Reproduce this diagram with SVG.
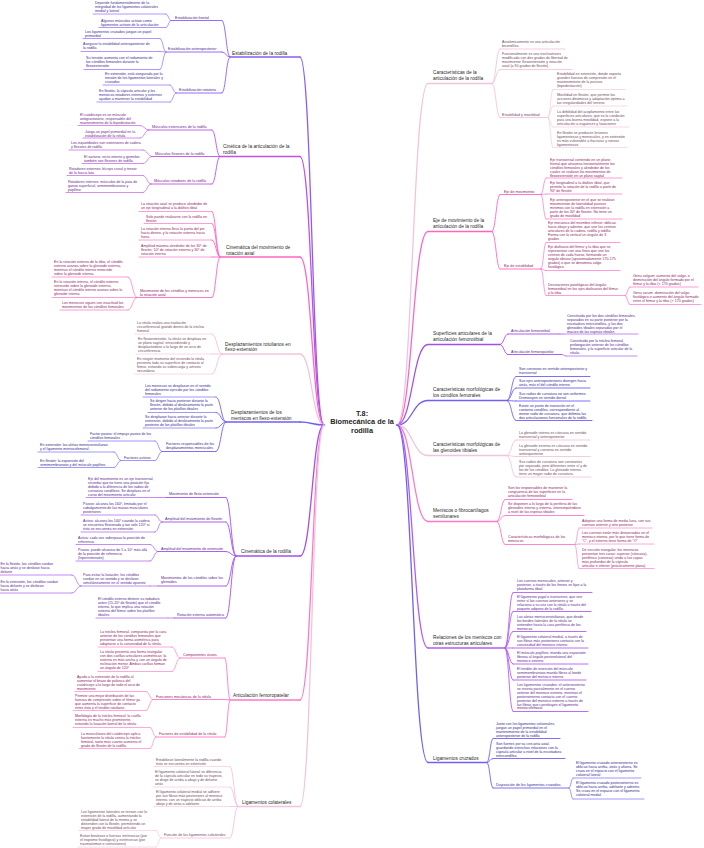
<svg xmlns="http://www.w3.org/2000/svg" width="704" height="848" viewBox="0 0 704 848">
<style>
text{font-family:"Liberation Sans",Arial,sans-serif}
.t{font-size:3.6px}
.m{font-size:3.7px}
.b{font-size:4.8px}
.title{font-size:7.3px;font-weight:bold;fill:#1f1f1f}
line,path{fill:none;stroke-linecap:round}
.l1{stroke-width:1.3}.l2{stroke-width:0.9}.l3{stroke-width:0.65}
.cA text{fill:#3b2a8c}.cA line,.cA path{stroke:#8b5cf6}
.cB text{fill:#6b2785}.cB line,.cB path{stroke:#c050e8}
.cC text{fill:#8c1f63}.cC line,.cC path{stroke:#ff66c4}
.cD text{fill:#6e4a5e}.cD line,.cD path{stroke:#f2c4dc}
.cE text{fill:#342a8c}.cE line,.cE path{stroke:#7060f5}
.cF text{fill:#55288a}.cF line,.cF path{stroke:#a24ff0}
.cG text{fill:#8c1f63}.cG line,.cG path{stroke:#ff78c8}
.cO text{fill:#5c2a8a}.cO line,.cO path{stroke:#b45cf2}
.n text.b{fill:#2b2b2b}
</style>
<rect width="704" height="848" fill="#ffffff"/>

<g id="connectors">
<g class="cA">
<path class="l1" d="M324 425C312 425 312 57 300 57"/>
<path class="l2" d="M230 57C226 57 226 20.5 222 20.5M230 57C226 57 226 52 222 52M230 57C226 57 226 93 222 93"/>
<path class="l3" d="M171 20.5C168.5 20.5 168.5 14 166 14M171 20.5C168.5 20.5 168.5 27.5 166 27.5M166 52C163 52 163 38.5 160 38.5M166 52C163 52 163 51.5 160 51.5M166 52C163 52 163 69.5 160 69.5M176 93C173 93 173 85 170 85M176 93C173 93 173 102 170 102"/>
</g>
<g class="cB">
<path class="l1" d="M324 425C312 425 312 156.5 300 156.5"/>
<path class="l2" d="M220 156.5C216 156.5 216 130 212 130M220 156.5L212 156.5M220 156.5C216 156.5 216 184 212 184"/>
<path class="l3" d="M149 130C144.5 130 144.5 125.5 140 125.5M149 130C144.5 130 144.5 138 140 138M152 156.5C147.5 156.5 147.5 150 143 150M152 156.5C147.5 156.5 147.5 163.5 143 163.5M151 184C147 184 147 175.5 143 175.5M151 184C147 184 147 192.5 143 192.5"/>
</g>
<g class="cC">
<path class="l1" d="M324 425C312 425 312 257 300 257"/>
<path class="l2" d="M220 257C216 257 216 211.5 212 211.5M220 257C216 257 216 223.5 212 223.5M220 257C216 257 216 240 212 240M220 257L212 257M220 257C216 257 216 297.5 212 297.5"/>
<path class="l3" d="M137 297.5C132.5 297.5 132.5 277 128 277M137 297.5L128 297.5M137 297.5C132.5 297.5 132.5 310 128 310"/>
</g>
<g class="cD">
<path class="l1" d="M324 425C312 425 312 354 300 354"/>
<path class="l2" d="M222 354C217 354 217 334 212 334M222 354L212 354M222 354C217 354 217 374 212 374"/>
</g>
<g class="cE">
<path class="l1" d="M324 425C312 425 312 422 300 422"/>
<path class="l2" d="M226 422C221 422 221 397 216 397M226 422C221 422 221 412.5 216 412.5M226 422C221 422 221 428 216 428M226 422C221 422 221 451.5 216 451.5"/>
<path class="l3" d="M162 451.5C158.5 451.5 158.5 441 155 441M162 451.5C158.5 451.5 158.5 460.5 155 460.5M121 460.5C117.5 460.5 117.5 452 114 452M121 460.5C117.5 460.5 117.5 467.5 114 467.5"/>
</g>
<g class="cF">
<path class="l1" d="M324 425C312 425 312 556 300 556"/>
<path class="l2" d="M236 556C231 556 231 497.5 226 497.5M236 556C231 556 231 522 226 522M236 556C231 556 231 551.5 226 551.5M236 556C231 556 231 586 226 586M236 556C231 556 231 618 226 618"/>
<path class="l3" d="M166 497.5L160 497.5M162 522C158.5 522 158.5 515 155 515M162 522C158.5 522 158.5 532 155 532M158 551.5C154 551.5 154 544.5 150 544.5M158 551.5C154 551.5 154 561 150 561M158 586L150 586M81 586C76.5 586 76.5 575 72 575M81 586C76.5 586 76.5 593 72 593M174 618L168 618"/>
</g>
<g class="cG">
<path class="l1" d="M324 425C312 425 312 700 300 700"/>
<path class="l2" d="M230 700C227.5 700 227.5 658 225 658M230 700L225 699.5M230 700C227.5 700 227.5 737 225 737"/>
<path class="l3" d="M180 658C176 658 176 647 172 647M180 658C176 658 176 671.5 172 671.5M153 699.5C149.5 699.5 149.5 691.5 146 691.5M153 699.5C149.5 699.5 149.5 710.5 146 710.5M156 737C153 737 153 727.5 150 727.5M156 737C153 737 153 748.5 150 748.5"/>
</g>
<g class="cD">
<path class="l1" d="M324 425C312 425 312 806.5 300 806.5"/>
<path class="l2" d="M238 806.5C234 806.5 234 766.5 230 766.5M238 806.5C234 806.5 234 787 230 787M238 806.5L230 806.5M238 806.5C234 806.5 234 838 230 838"/>
<path class="l3" d="M161 838C158.5 838 158.5 830.5 156 830.5M161 838C158.5 838 158.5 847 156 847"/>
</g>
<g class="cD">
<path class="l1" d="M397 425C412.5 425 412.5 83.5 428 83.5"/>
<path class="l2" d="M492 83.5C496 83.5 496 49 500 49M492 83.5C496 83.5 496 69.5 500 69.5M492 83.5C496 83.5 496 117.5 500 117.5"/>
<path class="l3" d="M548 117.5C550.5 117.5 550.5 89.5 553 89.5M548 117.5C550.5 117.5 550.5 106 553 106M548 117.5C550.5 117.5 550.5 127 553 127M548 117.5C550.5 117.5 550.5 147.5 553 147.5"/>
</g>
<g class="cC">
<path class="l1" d="M397 425C412.5 425 412.5 231.5 428 231.5"/>
<path class="l2" d="M492 231.5C496 231.5 496 194.5 500 194.5M492 231.5C496 231.5 496 269 500 269"/>
<path class="l3" d="M541 194.5C543.5 194.5 543.5 178 546 178M541 194.5L546 194M541 194.5C543.5 194.5 543.5 219 546 219M541 269C543.5 269 543.5 242.5 546 242.5M541 269C543.5 269 543.5 270.5 546 270.5M541 269C543.5 269 543.5 295.5 546 295.5M625 295.5C627.5 295.5 627.5 287 630 287M625 295.5C627.5 295.5 627.5 304.5 630 304.5"/>
</g>
<g class="cF">
<path class="l1" d="M397 425C412.5 425 412.5 344.5 428 344.5"/>
<path class="l2" d="M500 344.5C504 344.5 504 334 508 334M500 344.5C504 344.5 504 354.5 508 354.5"/>
<path class="l3" d="M560 334L563 334M562 354.5C564 354.5 564 356 566 356"/>
</g>
<g class="cE">
<path class="l1" d="M397 425C412.5 425 412.5 400.5 428 400.5"/>
<path class="l2" d="M507 400.5C511.5 400.5 511.5 376.5 516 376.5M507 400.5C511.5 400.5 511.5 388 516 388M507 400.5C511.5 400.5 511.5 401 516 401M507 400.5C511.5 400.5 511.5 420.5 516 420.5"/>
</g>
<g class="cD">
<path class="l1" d="M397 425C412.5 425 412.5 455.5 428 455.5"/>
<path class="l2" d="M507 455.5C511.5 455.5 511.5 440 516 440M507 455.5C511.5 455.5 511.5 456.5 516 456.5M507 455.5C511.5 455.5 511.5 477 516 477"/>
</g>
<g class="cG">
<path class="l1" d="M397 425C412.5 425 412.5 521.5 428 521.5"/>
<path class="l2" d="M497 521.5C501 521.5 501 499.5 505 499.5M497 521.5C501 521.5 501 515.5 505 515.5M497 521.5C501 521.5 501 544.5 505 544.5"/>
<path class="l3" d="M575 544.5C577 544.5 577 528 579 528M575 544.5L579 544M575 544.5C577 544.5 577 568.5 579 568.5"/>
</g>
<g class="cO">
<path class="l1" d="M397 425C412.5 425 412.5 648 428 648"/>
<path class="l2" d="M505 648C509 648 509 592.5 513 592.5M505 648C509 648 509 611.5 513 611.5M505 648C509 648 509 631.5 513 631.5M505 648L513 648M505 648C509 648 509 664 513 664M505 648C509 648 509 680 513 680M505 648C509 648 509 711.5 513 711.5"/>
</g>
<g class="cE">
<path class="l1" d="M397 425C412.5 425 412.5 762.5 428 762.5"/>
<path class="l2" d="M487 762.5C490 762.5 490 738.5 493 738.5M487 762.5C490 762.5 490 758.5 493 758.5M487 762.5C490 762.5 490 788 493 788"/>
<path class="l3" d="M569 788C571 788 571 778 573 778M569 788C571 788 571 799 573 799"/>
</g>
</g>

<g id="central"><text class="title" text-anchor="middle" x="362" y="415.5">T.8:<tspan x="362" dy="8.5">Biomecánica de la</tspan><tspan x="362" dy="8.5">rodilla</tspan></text></g>

<!-- A -->
<g id="estabilizacion" class="n cA"><text class="b" x="232" y="55">Estabilización de la rodilla</text><line class="l1" x1="230" y1="57" x2="300" y2="57"/></g>
<g id="est-frontal" class="n cA"><text class="m" x="175" y="19">Estabilización frontal</text><line class="l2" x1="171" y1="20.5" x2="222" y2="20.5"/></g>
<g id="est-frontal-1" class="n cA"><text class="t" x="95" y="4">Depende fundamentalmente de la<tspan x="95" dy="4">integridad de los ligamentos colaterales</tspan><tspan x="95" dy="4">medial y lateral</tspan></text><line class="l3" x1="93" y1="14" x2="166" y2="14"/></g>
<g id="est-frontal-2" class="n cA"><text class="t" x="101" y="21.5">Algunos músculos actúan como<tspan x="101" dy="4">ligamentos activos de la articulación</tspan></text><line class="l3" x1="99" y1="27.5" x2="166" y2="27.5"/></g>
<g id="est-ap" class="n cA"><text class="m" x="168" y="50">Estabilización anteroposterior</text><line class="l2" x1="166" y1="52" x2="222" y2="52"/></g>
<g id="est-ap-1" class="n cA"><text class="t" x="85" y="33">Los ligamentos cruzados juegan un papel<tspan x="85" dy="4">primordial</tspan></text><line class="l3" x1="83" y1="38.5" x2="160" y2="38.5"/></g>
<g id="est-ap-2" class="n cA"><text class="t" x="83" y="45">Asegurar la estabilidad anteroposterior de<tspan x="83" dy="4">la rodilla</tspan></text><line class="l3" x1="81" y1="51.5" x2="160" y2="51.5"/></g>
<g id="est-ap-3" class="n cA"><text class="t" x="86" y="59">Su tensión aumenta con el rodamiento de<tspan x="86" dy="4">los cóndilos femorales durante la</tspan><tspan x="86" dy="4">flexoextensión</tspan></text><line class="l3" x1="84" y1="69.5" x2="160" y2="69.5"/></g>
<g id="est-rot" class="n cA"><text class="m" x="179" y="91">Estabilización rotatoria</text><line class="l2" x1="176" y1="93" x2="222" y2="93"/></g>
<g id="est-rot-1" class="n cA"><text class="t" x="105" y="75">En extensión, está asegurada por la<tspan x="105" dy="4">tensión de los ligamentos laterales y</tspan><tspan x="105" dy="4">cruzados</tspan></text><line class="l3" x1="103" y1="85" x2="170" y2="85"/></g>
<g id="est-rot-2" class="n cA"><text class="t" x="99" y="92">En flexión, la cápsula articular y los<tspan x="99" dy="4">meniscos rotadores internos y externos</tspan><tspan x="99" dy="4">ayudan a mantener la estabilidad</tspan></text><line class="l3" x1="97" y1="102" x2="170" y2="102"/></g>

<!-- B -->
<g id="cinetica" class="n cB"><text class="b" x="223" y="148">Cinética de la articulación de la<tspan x="223" dy="5.8">rodilla</tspan></text><line class="l1" x1="220" y1="156.5" x2="300" y2="156.5"/></g>
<g id="m-ext" class="n cB"><text class="m" x="152" y="128">Músculos extensores de la rodilla</text><line class="l2" x1="149" y1="130" x2="212" y2="130"/></g>
<g id="m-ext-1" class="n cB"><text class="t" x="80" y="116">El cuádriceps es un músculo<tspan x="80" dy="4">antigravitatorio, responsable del</tspan><tspan x="80" dy="4">mantenimiento de la bipedestación</tspan></text><line class="l3" x1="78" y1="125.5" x2="140" y2="125.5"/></g>
<g id="m-ext-2" class="n cB"><text class="t" x="85" y="132.5">Juega un papel primordial en la<tspan x="85" dy="4">estabilización de la rótula</tspan></text><line class="l3" x1="83" y1="138" x2="140" y2="138"/></g>
<g id="m-flex" class="n cB"><text class="m" x="155" y="154.5">Músculos flexores de la rodilla</text><line class="l2" x1="152" y1="156.5" x2="212" y2="156.5"/></g>
<g id="m-flex-1" class="n cB"><text class="t" x="71" y="144">Los isquiotibiales son extensores de cadera<tspan x="71" dy="4">y flexores de rodilla</tspan></text><line class="l3" x1="69" y1="150" x2="143" y2="150"/></g>
<g id="m-flex-2" class="n cB"><text class="t" x="84" y="158">El sartorio, recto interno y gemelos<tspan x="84" dy="4">también son flexores de rodilla</tspan></text><line class="l3" x1="82" y1="163.5" x2="143" y2="163.5"/></g>
<g id="m-rot" class="n cB"><text class="m" x="154" y="182">Músculos rotadores de la rodilla</text><line class="l2" x1="151" y1="184" x2="212" y2="184"/></g>
<g id="m-rot-1" class="n cB"><text class="t" x="69" y="170">Rotadores externos: bíceps crural y tensor<tspan x="69" dy="4">de la fascia lata</tspan></text><line class="l3" x1="67" y1="175.5" x2="143" y2="175.5"/></g>
<g id="m-rot-2" class="n cB"><text class="t" x="68" y="182.5">Rotadores internos: músculos de la pata de<tspan x="68" dy="4">ganso superficial, semimembranoso y</tspan><tspan x="68" dy="4">poplíteo</tspan></text><line class="l3" x1="66" y1="192.5" x2="143" y2="192.5"/></g>

<!-- C -->
<g id="rot-axial" class="n cC"><text class="b" x="226" y="249">Cinemática del movimiento de<tspan x="226" dy="5.8">rotación axial</tspan></text><line class="l1" x1="220" y1="257" x2="300" y2="257"/></g>
<g id="rot-axial-1" class="n cC"><text class="t" x="141" y="205">La rotación axial se produce alrededor de<tspan x="141" dy="4">un eje longitudinal a la diáfisis tibial</tspan></text><line class="l3" x1="139" y1="211.5" x2="212" y2="211.5"/></g>
<g id="rot-axial-2" class="n cC"><text class="t" x="146" y="218">Solo puede realizarse con la rodilla en<tspan x="146" dy="4">flexión</tspan></text><line class="l3" x1="144" y1="223.5" x2="212" y2="223.5"/></g>
<g id="rot-axial-3" class="n cC"><text class="t" x="141" y="230">La rotación interna lleva la punta del pie<tspan x="141" dy="4">hacia dentro, y la rotación externa hacia</tspan><tspan x="141" dy="4">fuera</tspan></text><line class="l3" x1="139" y1="240" x2="212" y2="240"/></g>
<g id="rot-axial-4" class="n cC"><text class="t" x="141" y="247">Amplitud máxima alrededor de los 30º de<tspan x="141" dy="4">flexión: 10º de rotación externa y 30º de</tspan><tspan x="141" dy="4">rotación interna</tspan></text><line class="l3" x1="139" y1="257" x2="212" y2="257"/></g>
<g id="rot-cond" class="n cC"><text class="m" x="140" y="291.5">Movimiento de los cóndilos y meniscos en<tspan x="140" dy="4">la rotación axial</tspan></text><line class="l2" x1="137" y1="297.5" x2="212" y2="297.5"/></g>
<g id="rot-cond-1" class="n cC"><text class="t" x="54" y="263">En la rotación externa de la tibia, el cóndilo<tspan x="54" dy="4">externo avanza sobre la glenoide externa,</tspan><tspan x="54" dy="4">mientras el cóndilo interno retrocede</tspan><tspan x="54" dy="4">sobre la glenoide interna.</tspan></text><line class="l3" x1="52" y1="277" x2="128" y2="277"/></g>
<g id="rot-cond-2" class="n cC"><text class="t" x="54" y="283">En la rotación interna, el cóndilo externo<tspan x="54" dy="4">retrocede sobre la glenoide externa,</tspan><tspan x="54" dy="4">mientras el cóndilo interno avanza sobre la</tspan><tspan x="54" dy="4">glenoide interna</tspan></text><line class="l3" x1="52" y1="297.5" x2="128" y2="297.5"/></g>
<g id="rot-cond-3" class="n cC"><text class="t" x="62" y="304">Los meniscos siguen con exactitud los<tspan x="62" dy="4">movimientos de los cóndilos femorales</tspan></text><line class="l3" x1="60" y1="310" x2="128" y2="310"/></g>

<!-- D -->
<g id="rotula-flexo" class="n cD"><text class="b" x="225" y="345.5">Desplazamientos rotulianos en<tspan x="225" dy="5.8">flexo-extensión</tspan></text><line class="l1" x1="222" y1="354" x2="300" y2="354"/></g>
<g id="rotula-1" class="n cD"><text class="t" x="137" y="324">La rótula realiza una traslación<tspan x="137" dy="4">circunferencial grande dentro de la tróclea</tspan><tspan x="137" dy="4">femoral</tspan></text><line class="l3" x1="135" y1="334" x2="212" y2="334"/></g>
<g id="rotula-2" class="n cD"><text class="t" x="138" y="339.5">En flexoextensión, la rótula se desplaza en<tspan x="138" dy="4">un plano sagital, retrocediendo y</tspan><tspan x="138" dy="4">desplazándose a lo largo de un arco de</tspan><tspan x="138" dy="4">circunferencia</tspan></text><line class="l3" x1="136" y1="354" x2="212" y2="354"/></g>
<g id="rotula-3" class="n cD"><text class="t" x="137" y="360">En ningún momento del recorrido la rótula<tspan x="137" dy="4">presenta toda su superficie de contacto al</tspan><tspan x="137" dy="4">fémur, evitando su sobrecarga y artrosis</tspan><tspan x="137" dy="4">secundaria</tspan></text><line class="l3" x1="135" y1="374" x2="212" y2="374"/></g>

<!-- E -->
<g id="meniscos-flexo" class="n cE"><text class="b" x="231" y="414">Desplazamientos de los<tspan x="231" dy="5.8">meniscos en flexo-extensión</tspan></text><line class="l1" x1="226" y1="422" x2="300" y2="422"/></g>
<g id="men-1" class="n cE"><text class="t" x="145" y="387">Los meniscos se desplazan en el sentido<tspan x="145" dy="4">del rodamiento ejercido por los cóndilos</tspan><tspan x="145" dy="4">femorales</tspan></text><line class="l3" x1="143" y1="397" x2="216" y2="397"/></g>
<g id="men-2" class="n cE"><text class="t" x="150" y="402">Se dirigen hacia posterior durante la<tspan x="150" dy="4">flexión, debido al deslizamiento la parte</tspan><tspan x="150" dy="4">anterior de los platillos tibiales</tspan></text><line class="l3" x1="148" y1="412.5" x2="216" y2="412.5"/></g>
<g id="men-3" class="n cE"><text class="t" x="145" y="418">Se desplazan hacia anterior durante la<tspan x="145" dy="4">extensión, debido al deslizamiento la parte</tspan><tspan x="145" dy="4">posterior de los platillos tibiales</tspan></text><line class="l3" x1="143" y1="428" x2="216" y2="428"/></g>
<g id="men-factores" class="n cE"><text class="m" x="166" y="445">Factores responsables de los<tspan x="166" dy="4">desplazamientos meniscales</tspan></text><line class="l2" x1="162" y1="451.5" x2="216" y2="451.5"/></g>
<g id="men-pasivo" class="n cE"><text class="t" x="90" y="434.5">Factor pasivo: el empuje pasivo de los<tspan x="90" dy="4">cóndilos femorales</tspan></text><line class="l3" x1="88" y1="441" x2="155" y2="441"/></g>
<g id="men-activos" class="n cE"><text class="m" x="124" y="459">Factores activos</text><line class="l3" x1="121" y1="460.5" x2="155" y2="460.5"/></g>
<g id="men-activos-1" class="n cE"><text class="t" x="40" y="446">En extensión: las aletas meniscorotulianas<tspan x="40" dy="4">y el ligamento meniscofemoral</tspan></text><line class="l3" x1="38" y1="452" x2="114" y2="452"/></g>
<g id="men-activos-2" class="n cE"><text class="t" x="40" y="461.5">En flexión: la expansión del<tspan x="40" dy="4">semimembranoso y del músculo poplíteo</tspan></text><line class="l3" x1="38" y1="467.5" x2="114" y2="467.5"/></g>

<!-- F -->
<g id="cinematica" class="n cF"><text class="b" x="241" y="553">Cinemática de la rodilla</text><line class="l1" x1="236" y1="556" x2="300" y2="556"/></g>
<g id="flexo" class="n cF"><text class="m" x="169" y="495">Movimiento de flexo-extensión</text><line class="l2" x1="166" y1="497.5" x2="226" y2="497.5"/></g>
<g id="flexo-1" class="n cF"><text class="t" x="88" y="479.5">Eje del movimiento es un eje transversal,<tspan x="88" dy="4">recordar que no tiene una posición fija</tspan><tspan x="88" dy="4">debido a la diferencia de los radios de</tspan><tspan x="88" dy="4">curvatura condíleos. Se desplaza en el</tspan><tspan x="88" dy="4">curso del movimiento articular</tspan></text><line class="l3" x1="86" y1="497.5" x2="160" y2="497.5"/></g>
<g id="amp-flex" class="n cF"><text class="m" x="165" y="520">Amplitud del movimiento de flexión</text><line class="l2" x1="162" y1="522" x2="226" y2="522"/></g>
<g id="amp-flex-1" class="n cF"><text class="t" x="83" y="505">Pasivo: alcanza los 160º, limitada por el<tspan x="83" dy="4">cabalgamiento de las masas musculares</tspan><tspan x="83" dy="4">posteriores</tspan></text><line class="l3" x1="81" y1="515" x2="155" y2="515"/></g>
<g id="amp-flex-2" class="n cF"><text class="t" x="83" y="522">Activa: alcanza los 140º cuando la cadera<tspan x="83" dy="4">se encuentra flexionada y tan solo 120º si</tspan><tspan x="83" dy="4">ésta se encuentra en extensión</tspan></text><line class="l3" x1="81" y1="532" x2="155" y2="532"/></g>
<g id="amp-ext" class="n cF"><text class="m" x="161" y="549.5">Amplitud del movimiento de extensión</text><line class="l2" x1="158" y1="551.5" x2="226" y2="551.5"/></g>
<g id="amp-ext-1" class="n cF"><text class="t" x="78" y="538.5">Activa: cada vez sobrepasa la posición de<tspan x="78" dy="4">referencia</tspan></text><line class="l3" x1="76" y1="544.5" x2="150" y2="544.5"/></g>
<g id="amp-ext-2" class="n cF"><text class="t" x="78" y="551">Pasiva: puede alcanzar de 5 a 10º más allá<tspan x="78" dy="4">de la posición de referencia</tspan><tspan x="78" dy="4">(hiperextensión)</tspan></text><line class="l3" x1="76" y1="561" x2="150" y2="561"/></g>
<g id="mov-cond" class="n cF"><text class="m" x="161" y="579">Movimientos de los cóndilos sobre las<tspan x="161" dy="4">glenoides</tspan></text><line class="l2" x1="158" y1="586" x2="226" y2="586"/></g>
<g id="mov-cond-1" class="n cF"><text class="t" x="83" y="575.5">Para evitar la luxación, los cóndilos<tspan x="83" dy="4">ruedan en un sentido y se deslizan</tspan><tspan x="83" dy="4">simultáneamente en el sentido opuesto</tspan></text><line class="l3" x1="81" y1="586" x2="150" y2="586"/></g>
<g id="mov-cond-1a" class="n cF"><text class="t" x="0.5" y="565">En la flexión, los cóndilos ruedan<tspan x="0.5" dy="4">hacia atrás y se deslizan hacia</tspan><tspan x="0.5" dy="4">delante</tspan></text><line class="l3" x1="0" y1="575" x2="72" y2="575"/></g>
<g id="mov-cond-1b" class="n cF"><text class="t" x="0.5" y="583">En la extensión, los cóndilos ruedan<tspan x="0.5" dy="4">hacia delante y se deslizan</tspan><tspan x="0.5" dy="4">hacia atrás</tspan></text><line class="l3" x1="0" y1="593" x2="72" y2="593"/></g>
<g id="rot-auto" class="n cF"><text class="m" x="177" y="615.5">Rotación externa automática</text><line class="l2" x1="174" y1="618" x2="226" y2="618"/></g>
<g id="rot-auto-1" class="n cF"><text class="t" x="98" y="600">El cóndilo externo detiene su rodadura<tspan x="98" dy="4">antes (15-20º de flexión) que el cóndilo</tspan><tspan x="98" dy="4">interno, lo que implica una rotación</tspan><tspan x="98" dy="4">externa del fémur sobre los platillos</tspan><tspan x="98" dy="4">tibiales</tspan></text><line class="l3" x1="96" y1="618" x2="168" y2="618"/></g>

<!-- G -->
<g id="femoropatelar" class="n cG"><text class="b" x="233" y="697">Articulación femoropatelar</text><line class="l1" x1="230" y1="700" x2="300" y2="700"/></g>
<g id="oseos" class="n cG"><text class="m" x="183" y="656">Componentes óseos</text><line class="l2" x1="180" y1="658" x2="225" y2="658"/></g>
<g id="oseos-1" class="n cG"><text class="t" x="100" y="633">La tróclea femoral, compuesta por la cara<tspan x="100" dy="4">anterior de los cóndilos femorales que</tspan><tspan x="100" dy="4">presentan una forma asimétrica para</tspan><tspan x="100" dy="4">adaptarse a la convexidad de la rótula.</tspan></text><line class="l3" x1="98" y1="647" x2="172" y2="647"/></g>
<g id="oseos-2" class="n cG"><text class="t" x="100" y="653">La rótula presenta una forma triangular<tspan x="100" dy="4">con dos carillas articulares asimétricas; la</tspan><tspan x="100" dy="4">externa es más ancha y con un ángulo de</tspan><tspan x="100" dy="4">inclinación menor. Ambas carillas forman</tspan><tspan x="100" dy="4">un ángulo de 120º</tspan></text><line class="l3" x1="98" y1="671.5" x2="172" y2="671.5"/></g>
<g id="funciones" class="n cG"><text class="m" x="156" y="697.5">Funciones mecánicas de la rótula</text><line class="l2" x1="153" y1="699.5" x2="225" y2="699.5"/></g>
<g id="funciones-1" class="n cG"><text class="t" x="77" y="678">Ayuda a la extensión de la rodilla al<tspan x="77" dy="4">aumentar el brazo de palanca del</tspan><tspan x="77" dy="4">cuádriceps a lo largo de todo el arco de</tspan><tspan x="77" dy="4">movimiento</tspan></text><line class="l3" x1="75" y1="691.5" x2="146" y2="691.5"/></g>
<g id="funciones-2" class="n cG"><text class="t" x="75" y="697">Permite una mejor distribución de las<tspan x="75" dy="4">fuerzas de compresión sobre el fémur ya</tspan><tspan x="75" dy="4">que aumenta la superficie de contacto</tspan><tspan x="75" dy="4">entre ésta y el tendón rotuliano</tspan></text><line class="l3" x1="73" y1="710.5" x2="146" y2="710.5"/></g>
<g id="estab-rotula" class="n cG"><text class="m" x="159" y="734.5">Factores de estabilidad de la rótula</text><line class="l2" x1="156" y1="737" x2="225" y2="737"/></g>
<g id="estab-rotula-1" class="n cG"><text class="t" x="75" y="717">Morfología de la tróclea femoral: la carilla<tspan x="75" dy="4">externa es mucho más prominente,</tspan><tspan x="75" dy="4">evitando la luxación lateral de la rótula</tspan></text><line class="l3" x1="73" y1="727.5" x2="150" y2="727.5"/></g>
<g id="estab-rotula-2" class="n cG"><text class="t" x="81" y="734.5">La musculatura del cuádriceps aplica<tspan x="81" dy="4">fuertemente la rótula contra la tróclea</tspan><tspan x="81" dy="4">femoral, tanto más cuanto aumenta el</tspan><tspan x="81" dy="4">grado de flexión de la rodilla</tspan></text><line class="l3" x1="79" y1="748.5" x2="150" y2="748.5"/></g>

<!-- H -->
<g id="colaterales" class="n cD"><text class="b" x="242" y="804">Ligamentos colaterales</text><line class="l1" x1="238" y1="806.5" x2="300" y2="806.5"/></g>
<g id="col-1" class="n cD"><text class="t" x="156" y="760.5">Estabilizan lateralmente la rodilla cuando<tspan x="156" dy="4">ésta se encuentra en extensión</tspan></text><line class="l3" x1="154" y1="766.5" x2="230" y2="766.5"/></g>
<g id="col-2" class="n cD"><text class="t" x="155" y="772.5">El ligamento colateral lateral se diferencia<tspan x="155" dy="4">de la cápsula articular en todo su trayecto,</tspan><tspan x="155" dy="4">se dirige de arriba a abajo y de delante</tspan><tspan x="155" dy="4">atrás</tspan></text><line class="l3" x1="153" y1="787" x2="230" y2="787"/></g>
<g id="col-3" class="n cD"><text class="t" x="156" y="792.5">El ligamento colateral medial se adhiere<tspan x="156" dy="4">por sus fibras más posteriores al menisco</tspan><tspan x="156" dy="4">interno, con un trayecto oblicuo de arriba</tspan><tspan x="156" dy="4">abajo y de atrás a adelante</tspan></text><line class="l3" x1="154" y1="806.5" x2="230" y2="806.5"/></g>
<g id="col-funcion" class="n cD"><text class="m" x="164" y="836">Función de los ligamentos colaterales</text><line class="l2" x1="161" y1="838" x2="230" y2="838"/></g>
<g id="col-funcion-1" class="n cD"><text class="t" x="81" y="812.5">Los ligamentos laterales se tensan con la<tspan x="81" dy="4">extensión de la rodilla, aumentando la</tspan><tspan x="81" dy="4">estabilidad lateral de la misma y se</tspan><tspan x="81" dy="4">distienden con la flexión, permitiendo un</tspan><tspan x="81" dy="4">mayor grado de movilidad articular</tspan></text><line class="l3" x1="79" y1="830.5" x2="156" y2="830.5"/></g>
<g id="col-funcion-2" class="n cD"><text class="t" x="80" y="837">Evitan bostezos o fuerzas intrínsecas (por<tspan x="80" dy="4">el tropismo fisiológico) y extrínsecas (por</tspan><tspan x="80" dy="4">traumatismos o contusiones)</tspan></text><line class="l3" x1="78" y1="847" x2="156" y2="847"/></g>

<!-- I -->
<g id="caracteristicas" class="n cD"><text class="b" x="433" y="74">Características de la<tspan x="433" dy="5.8">articulación de la rodilla</tspan></text><line class="l1" x1="428" y1="83.5" x2="492" y2="83.5"/></g>
<g id="car-1" class="n cD"><text class="t" x="502" y="43">Anatómicamente es una articulación<tspan x="502" dy="4">bicondílea</tspan></text><line class="l2" x1="500" y1="49" x2="565" y2="49"/></g>
<g id="car-2" class="n cD"><text class="t" x="502" y="55">Funcionalmente es una trocleartrosis<tspan x="502" dy="4">modificada con dos grados de libertad de</tspan><tspan x="502" dy="4">movimiento: flexoextensión y rotación</tspan><tspan x="502" dy="4">axial (a 90 grados de flexión)</tspan></text><line class="l2" x1="500" y1="69.5" x2="572" y2="69.5"/></g>
<g id="estab-mov" class="n cD"><text class="m" x="502" y="115.5">Estabilidad y movilidad</text><line class="l2" x1="500" y1="117.5" x2="548" y2="117.5"/></g>
<g id="estab-mov-1" class="n cD"><text class="t" x="557" y="75">Estabilidad en extensión, donde soporta<tspan x="557" dy="4">grandes fuerzas de compresión en el</tspan><tspan x="557" dy="4">mantenimiento de la postura</tspan><tspan x="557" dy="4">(bipedestación)</tspan></text><line class="l3" x1="553" y1="89.5" x2="625" y2="89.5"/></g>
<g id="estab-mov-2" class="n cD"><text class="t" x="557" y="96">Movilidad en flexión, que permite las<tspan x="557" dy="4">acciones dinámicas y adaptación óptima a</tspan><tspan x="557" dy="4">las irregularidades del terreno</tspan></text><line class="l3" x1="553" y1="106" x2="627" y2="106"/></g>
<g id="estab-mov-3" class="n cD"><text class="t" x="557" y="112.5">La debilidad del acoplamiento entre las<tspan x="557" dy="4">superficies articulares, que es la condición</tspan><tspan x="557" dy="4">para una buena movilidad, expone a la</tspan><tspan x="557" dy="4">articulación a esguinces y luxaciones</tspan></text><line class="l3" x1="553" y1="127" x2="629" y2="127"/></g>
<g id="estab-mov-4" class="n cD"><text class="t" x="557" y="133.5">En flexión se producen lesiones<tspan x="557" dy="4">ligamentosas y meniscales, y en extensión</tspan><tspan x="557" dy="4">es más vulnerable a fracturas y roturas</tspan><tspan x="557" dy="4">ligamentosas</tspan></text><line class="l3" x1="553" y1="147.5" x2="627" y2="147.5"/></g>

<!-- J -->
<g id="ejes" class="n cC"><text class="b" x="433" y="222">Eje de movimiento de la<tspan x="433" dy="5.8">articulación de la rodilla</tspan></text><line class="l1" x1="428" y1="231.5" x2="492" y2="231.5"/></g>
<g id="eje-mov" class="n cC"><text class="m" x="504" y="193">Eje de movimiento</text><line class="l2" x1="500" y1="194.5" x2="541" y2="194.5"/></g>
<g id="eje-mov-1" class="n cC"><text class="t" x="550" y="160.5">Eje transversal contenido en un plano<tspan x="550" dy="4">frontal que atraviesa horizontalmente los</tspan><tspan x="550" dy="4">cóndilos femorales y alrededor de los</tspan><tspan x="550" dy="4">cuales se realizan los movimientos de</tspan><tspan x="550" dy="4">flexoextensión en un plano sagital</tspan></text><line class="l3" x1="546" y1="178" x2="622" y2="178"/></g>
<g id="eje-mov-2" class="n cC"><text class="t" x="550" y="184">Eje longitudinal a la diáfisis tibial, que<tspan x="550" dy="4">permite la rotación de la rodilla a partir de</tspan><tspan x="550" dy="4">90º de flexión</tspan></text><line class="l3" x1="546" y1="194" x2="622" y2="194"/></g>
<g id="eje-mov-3" class="n cC"><text class="t" x="550" y="200.5">Eje anteroposterior en el que se realizan<tspan x="550" dy="4">movimientos de lateralidad pasivos</tspan><tspan x="550" dy="4">mínimos con la rodilla en extensión a</tspan><tspan x="550" dy="4">partir de los 30º de flexión. No tiene un</tspan><tspan x="550" dy="4">grado de movilidad</tspan></text><line class="l3" x1="546" y1="219" x2="622" y2="219"/></g>
<g id="eje-estab" class="n cC"><text class="m" x="504" y="267">Eje de estabilidad</text><line class="l2" x1="500" y1="269" x2="541" y2="269"/></g>
<g id="eje-estab-1" class="n cC"><text class="t" x="548" y="224">Eje mecánico del miembro inferior: oblicuo<tspan x="548" dy="4">hacia abajo y adentro, que une los centros</tspan><tspan x="548" dy="4">articulares de la cadera, rodilla y tobillo.</tspan><tspan x="548" dy="4">Forma con la vertical un ángulo de 3</tspan><tspan x="548" dy="4">grados</tspan></text><line class="l3" x1="546" y1="242.5" x2="620" y2="242.5"/></g>
<g id="eje-estab-2" class="n cC"><text class="t" x="548" y="248">Eje diafisario del fémur y la tibia que se<tspan x="548" dy="4">representan con una línea que une los</tspan><tspan x="548" dy="4">centros de cada hueso, formando un</tspan><tspan x="548" dy="4">ángulo obtuso (aproximadamente 170-175</tspan><tspan x="548" dy="4">grados) o que se denomina valgo</tspan><tspan x="548" dy="4">fisiológico</tspan></text><line class="l3" x1="546" y1="270.5" x2="620" y2="270.5"/></g>
<g id="desviaciones" class="n cC"><text class="t" x="548" y="285.5">Desviaciones patológicas del ángulo<tspan x="548" dy="4">femorotibial en los ejes diafisarios del fémur</tspan><tspan x="548" dy="4">y la tibia</tspan></text><line class="l3" x1="546" y1="295.5" x2="625" y2="295.5"/></g>
<g id="valgum" class="n cC"><text class="t" x="633" y="277">Genu valgum: aumento del valgo, o<tspan x="633" dy="4">disminución del ángulo formado por el</tspan><tspan x="633" dy="4">fémur y la tibia (&lt; 170 grados)</tspan></text><line class="l3" x1="630" y1="287" x2="698" y2="287"/></g>
<g id="varum" class="n cC"><text class="t" x="633" y="294">Genu varum: disminución del valgo<tspan x="633" dy="4">fisiológico o aumento del ángulo formado</tspan><tspan x="633" dy="4">entre el fémur y la tibia (&gt; 170 grados)</tspan></text><line class="l3" x1="630" y1="304.5" x2="701" y2="304.5"/></g>

<!-- K -->
<g id="superficies" class="n cF"><text class="b" x="433" y="335">Superficies articulares de la<tspan x="433" dy="5.8">articulación femorotibial</tspan></text><line class="l1" x1="428" y1="344.5" x2="500" y2="344.5"/></g>
<g id="femorotibial" class="n cF"><text class="m" x="511" y="332">Articulación femorotibial</text><line class="l2" x1="508" y1="334" x2="560" y2="334"/></g>
<g id="femorotibial-1" class="n cF"><text class="t" x="567" y="316.5">Constituida por los dos cóndilos femorales,<tspan x="567" dy="4">separados en su parte posterior por la</tspan><tspan x="567" dy="4">escotadura intercondílea, y las dos</tspan><tspan x="567" dy="4">glenoides tibiales separadas por el</tspan><tspan x="567" dy="4">macizo de las espinas tibiales</tspan></text><line class="l3" x1="563" y1="334" x2="638" y2="334"/></g>
<g id="femoropat" class="n cF"><text class="m" x="511" y="352.5">Articulación femoropatelar</text><line class="l2" x1="508" y1="354.5" x2="562" y2="354.5"/></g>
<g id="femoropat-1" class="n cF"><text class="t" x="570" y="342">Constituida por la tróclea femoral,<tspan x="570" dy="4">prolongación anterior de los cóndilos</tspan><tspan x="570" dy="4">femorales, y la superficie articular de la</tspan><tspan x="570" dy="4">rótula.</tspan></text><line class="l3" x1="566" y1="356" x2="637" y2="356"/></g>

<!-- L -->
<g id="condilos" class="n cE"><text class="b" x="433" y="391">Características morfológicas de<tspan x="433" dy="5.8">los cóndilos femorales</tspan></text><line class="l1" x1="428" y1="400.5" x2="507" y2="400.5"/></g>
<g id="cond-1" class="n cE"><text class="t" x="519" y="369.5">Son convexos en sentido anteroposterior y<tspan x="519" dy="4">transversal</tspan></text><line class="l2" x1="516" y1="376.5" x2="590" y2="376.5"/></g>
<g id="cond-2" class="n cE"><text class="t" x="519" y="381.5">Sus ejes anteroposteriores divergen hacia<tspan x="519" dy="4">atrás, más el del cóndilo interno</tspan></text><line class="l2" x1="516" y1="388" x2="590" y2="388"/></g>
<g id="cond-3" class="n cE"><text class="t" x="519" y="395">Sus radios de curvatura no son uniformes.<tspan x="519" dy="4">Disminuyen en sentido dorsal</tspan></text><line class="l2" x1="516" y1="401" x2="590" y2="401"/></g>
<g id="cond-4" class="n cE"><text class="t" x="519" y="406.5">Existe un punto de transición en el<tspan x="519" dy="4">contorno condíleo, correspondiente al</tspan><tspan x="519" dy="4">menor radio de curvatura, que delimita las</tspan><tspan x="519" dy="4">dos articulaciones funcionales de la rodilla</tspan></text><line class="l2" x1="516" y1="420.5" x2="592" y2="420.5"/></g>

<!-- M -->
<g id="glenoides" class="n cD"><text class="b" x="433" y="446">Características morfológicas de<tspan x="433" dy="5.8">las glenoides tibiales</tspan></text><line class="l1" x1="428" y1="455.5" x2="507" y2="455.5"/></g>
<g id="glen-1" class="n cD"><text class="t" x="519" y="434">La glenoide interna es cóncava en sentido<tspan x="519" dy="4">transversal y anteroposterior</tspan></text><line class="l2" x1="516" y1="440" x2="590" y2="440"/></g>
<g id="glen-2" class="n cD"><text class="t" x="519" y="446.5">La glenoide externa es cóncava en sentido<tspan x="519" dy="4">transversal y convexa en sentido</tspan><tspan x="519" dy="4">anteroposterior</tspan></text><line class="l2" x1="516" y1="456.5" x2="590" y2="456.5"/></g>
<g id="glen-3" class="n cD"><text class="t" x="519" y="462.5">Sus radios de curvatura son constantes<tspan x="519" dy="4">por separado, pero diferentes entre sí y de</tspan><tspan x="519" dy="4">los de los cóndilos. La glenoide interna</tspan><tspan x="519" dy="4">tiene un mayor radio de curvatura.</tspan></text><line class="l2" x1="516" y1="477" x2="591" y2="477"/></g>

<!-- N -->
<g id="meniscos" class="n cG"><text class="b" x="433" y="512">Meniscos o fibrocartílagos<tspan x="433" dy="5.8">semilunares</tspan></text><line class="l1" x1="428" y1="521.5" x2="497" y2="521.5"/></g>
<g id="men-r1" class="n cG"><text class="t" x="508" y="489">Son los responsables de mantener la<tspan x="508" dy="4">congruencia de las superficies en la</tspan><tspan x="508" dy="4">articulación femorotibial</tspan></text><line class="l2" x1="505" y1="499.5" x2="572" y2="499.5"/></g>
<g id="men-r2" class="n cG"><text class="t" x="508" y="505">Se disponen a lo largo de la periferia de las<tspan x="508" dy="4">glenoides interna y externa, interrumpiéndose</tspan><tspan x="508" dy="4">a nivel de las espinas tibiales</tspan></text><line class="l2" x1="505" y1="515.5" x2="584" y2="515.5"/></g>
<g id="men-morf" class="n cG"><text class="m" x="508" y="537.5">Características morfológicas de los<tspan x="508" dy="4">meniscos</tspan></text><line class="l2" x1="505" y1="544.5" x2="575" y2="544.5"/></g>
<g id="men-morf-1" class="n cG"><text class="t" x="582" y="521.5">Adoptan una forma de media luna, con sus<tspan x="582" dy="4">cuernos anterior y otro posterior</tspan></text><line class="l3" x1="579" y1="528" x2="652" y2="528"/></g>
<g id="men-morf-2" class="n cG"><text class="t" x="582" y="534">Los cuernos están más distanciados en el<tspan x="582" dy="4">menisco interno, por lo que tiene forma de</tspan><tspan x="582" dy="4">“C”, y el externo tiene forma de “O”</tspan></text><line class="l3" x1="579" y1="544" x2="654" y2="544"/></g>
<g id="men-morf-3" class="n cG"><text class="t" x="582" y="550.5">De sección triangular, los meniscos<tspan x="582" dy="4">presentan tres caras: superior (cóncava),</tspan><tspan x="582" dy="4">periférica (convexa) unida a las capas</tspan><tspan x="582" dy="4">más profundas de la cápsula</tspan><tspan x="582" dy="4">articular e inferior (prácticamente plana)</tspan></text><line class="l3" x1="579" y1="568.5" x2="654" y2="568.5"/></g>

<!-- O -->
<g id="relaciones" class="n cO"><text class="b" x="433" y="639">Relaciones de los meniscos con<tspan x="433" dy="5.8">otras estructuras articulares</tspan></text><line class="l1" x1="428" y1="648" x2="505" y2="648"/></g>
<g id="rel-1" class="n cO"><text class="t" x="517" y="581.5">Los cuernos meniscales, anterior y<tspan x="517" dy="4">posterior, a través de los frenos se fijan a la</tspan><tspan x="517" dy="4">plataforma tibial</tspan></text><line class="l2" x1="513" y1="592.5" x2="592" y2="592.5"/></g>
<g id="rel-2" class="n cO"><text class="t" x="517" y="597.5">El ligamento yugal o transverso, que une<tspan x="517" dy="4">entre sí los cuernos anteriores y se</tspan><tspan x="517" dy="4">relaciona a su vez con la rótula a través del</tspan><tspan x="517" dy="4">paquete adiposo de la rodilla</tspan></text><line class="l2" x1="513" y1="611.5" x2="591" y2="611.5"/></g>
<g id="rel-3" class="n cO"><text class="t" x="517" y="617.5">Las aletas meniscorrotulianas, que desde<tspan x="517" dy="4">los bordes laterales de la rótula se</tspan><tspan x="517" dy="4">extienden hasta la cara periférica de los</tspan><tspan x="517" dy="4">meniscos</tspan></text><line class="l2" x1="513" y1="631.5" x2="586" y2="631.5"/></g>
<g id="rel-4" class="n cO"><text class="t" x="517" y="637.5">El ligamento colateral medial, a través de<tspan x="517" dy="4">sus fibras más posteriores contacta con la</tspan><tspan x="517" dy="4">convexidad del menisco interno</tspan></text><line class="l2" x1="513" y1="648" x2="588" y2="648"/></g>
<g id="rel-5" class="n cO"><text class="t" x="517" y="653.5">El músculo poplíteo, manda una expansión<tspan x="517" dy="4">fibrosa al ángulo posterolateral del</tspan><tspan x="517" dy="4">menisco externo</tspan></text><line class="l2" x1="513" y1="664" x2="588" y2="664"/></g>
<g id="rel-6" class="n cO"><text class="t" x="517" y="669.5">El tendón de inserción del músculo<tspan x="517" dy="4">semimembranoso manda fibras al borde</tspan><tspan x="517" dy="4">posterior del menisco interno</tspan></text><line class="l2" x1="513" y1="680" x2="586" y2="680"/></g>
<g id="rel-7" class="n cO"><text class="t" x="517" y="686">Los ligamentos cruzados: el anteroexterno<tspan x="517" dy="3.9">se inserta parcialmente en el cuerno</tspan><tspan x="517" dy="3.9">anterior del menisco externo, mientras el</tspan><tspan x="517" dy="3.9">posterointerno contacta con el cuerno</tspan><tspan x="517" dy="3.9">posterior del menisco externo a través de</tspan><tspan x="517" dy="3.9">las fibras que constituyen el ligamento</tspan><tspan x="517" dy="3.9">meniscofemoral</tspan></text><line class="l2" x1="513" y1="711.5" x2="588" y2="711.5"/></g>

<!-- P -->
<g id="cruzados" class="n cE"><text class="b" x="433" y="759.5">Ligamentos cruzados</text><line class="l1" x1="428" y1="762.5" x2="487" y2="762.5"/></g>
<g id="cruz-1" class="n cE"><text class="t" x="496" y="725">Junto con los ligamentos colaterales,<tspan x="496" dy="4">juegan un papel primordial en el</tspan><tspan x="496" dy="4">mantenimiento de la estabilidad</tspan><tspan x="496" dy="4">anteroposterior de la rodilla</tspan></text><line class="l2" x1="493" y1="738.5" x2="560" y2="738.5"/></g>
<g id="cruz-2" class="n cE"><text class="t" x="496" y="745">Son fuertes por su cercanía axial,<tspan x="496" dy="4">guardando estrechas relaciones con la</tspan><tspan x="496" dy="4">cápsula articular a nivel de la escotadura</tspan><tspan x="496" dy="4">intercondílea</tspan></text><line class="l2" x1="493" y1="758.5" x2="565" y2="758.5"/></g>
<g id="cruz-disp" class="n cE"><text class="m" x="496" y="786">Disposición de los ligamentos cruzados</text><line class="l2" x1="493" y1="788" x2="569" y2="788"/></g>
<g id="cruz-disp-1" class="n cE"><text class="t" x="576" y="764">El ligamento cruzado anteroexterno es<tspan x="576" dy="4">oblicuo hacia arriba, atrás y afuera. Se</tspan><tspan x="576" dy="4">cruza en el espacio con el ligamento</tspan><tspan x="576" dy="4">colateral lateral</tspan></text><line class="l3" x1="573" y1="778" x2="641" y2="778"/></g>
<g id="cruz-disp-2" class="n cE"><text class="t" x="576" y="784">El ligamento cruzado posterointerno es<tspan x="576" dy="4">oblicuo hacia arriba, adelante y adentro.</tspan><tspan x="576" dy="4">Se cruza en el espacio con el ligamento</tspan><tspan x="576" dy="4">colateral medial</tspan></text><line class="l3" x1="573" y1="799" x2="644" y2="799"/></g>
</svg>
